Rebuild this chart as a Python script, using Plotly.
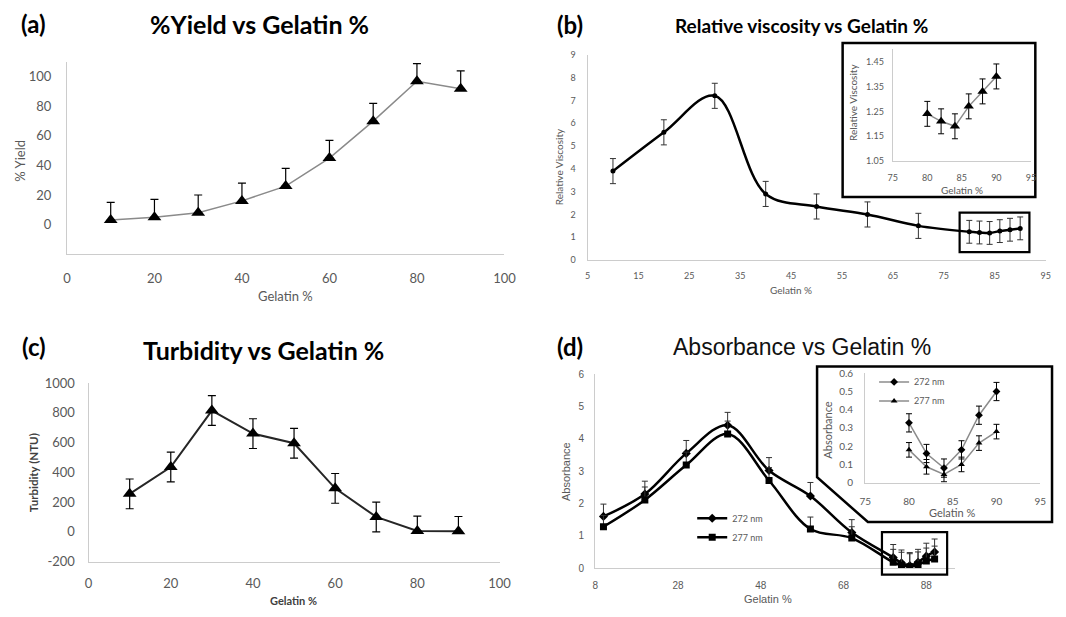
import plotly.graph_objects as go

W, H = 1066, 617

# ---------------- data ----------------
gelatin_a = [10, 20, 30, 40, 50, 60, 70, 80, 90]
yield_a = [3, 5, 8, 16, 26, 45, 70, 97, 92]
yield_err = [12, 12, 12, 12, 12, 12, 12, 12, 12]

gelatin_b = [10, 20, 30, 40, 50, 60, 70, 80, 82, 84, 86, 88, 90]
visc_b = [3.9, 5.6, 7.2, 2.9, 2.35, 2.0, 1.5, 1.24, 1.21, 1.19, 1.27, 1.33, 1.39]
visc_err = [0.55, 0.55, 0.55, 0.55, 0.55, 0.55, 0.55, 0.5, 0.5, 0.5, 0.5, 0.5, 0.5]

gelatin_b_inset = [80, 82, 84, 86, 88, 90]
visc_inset = [1.24, 1.21, 1.19, 1.27, 1.33, 1.39]
visc_inset_err = [0.05, 0.05, 0.05, 0.05, 0.05, 0.05]

gelatin_c = [10, 20, 30, 40, 50, 60, 70, 80, 90]
turbidity = [255, 435, 815, 660, 595, 292, 100, 5, 3]
turb_err_plus = [100, 100, 100, 100, 100, 100, 100, 100, 100]
turb_err_minus = [100, 100, 100, 100, 100, 100, 100, 0, 0]

gelatin_d = [10, 20, 30, 40, 50, 60, 70, 80, 82, 84, 86, 88, 90]
abs_272 = [1.6, 2.29, 3.55, 4.42, 3.02, 2.23, 1.1, 0.33, 0.16, 0.08, 0.18, 0.37, 0.5]
abs_277 = [1.28, 2.11, 3.19, 4.15, 2.71, 1.21, 0.93, 0.18, 0.09, 0.045, 0.1, 0.22, 0.28]
abs_272_err = [0.38, 0.4, 0.4, 0.4, 0.4, 0.42, 0.4, 0.4, 0.4, 0.4, 0.4, 0.4, 0.4]
abs_277_err = [0.35, 0.4, 0.4, 0.4, 0.4, 0.37, 0.35, 0.4, 0.4, 0.4, 0.4, 0.4, 0.4]

gelatin_d_inset = [80, 82, 84, 86, 88, 90]
abs_272_inset = [0.328, 0.16, 0.08, 0.18, 0.37, 0.5]
abs_277_inset = [0.18, 0.087, 0.045, 0.1, 0.217, 0.28]
abs_272_inset_err = [0.05, 0.05, 0.05, 0.05, 0.05, 0.05]
abs_277_inset_err = [0.04, 0.04, 0.04, 0.04, 0.04, 0.04]

turb_ticks = [-200, 0, 200, 400, 600, 800, 1000]
turb_ticktext = ["-200", "0", "200", "400", "600", "800", "1000"]

# ---------------- helpers ----------------
def xd(l, r):
    return [l / W, r / W]

def yd(t, b):
    return [1 - b / H, 1 - t / H]

def px(x):
    return x / W

def py(y):
    return 1 - y / H

CAL = "Lato, Open Sans, sans-serif"
ARI = "Liberation Sans, Arial, sans-serif"
TICK = "#595959"
AXL = "#cccccc"

def axis(domain, rng, tickvals, size, family, standoff, anchor, ticktext=None):
    d = dict(domain=domain, range=rng, tickvals=tickvals, showline=True,
             linecolor=AXL, linewidth=1.2, showgrid=False, zeroline=False,
             ticks="", tickfont=dict(size=size, family=family, color=TICK),
             ticklabelstandoff=standoff, anchor=anchor, fixedrange=True)
    if ticktext is not None:
        d["ticktext"] = ticktext
    return d

fig = go.Figure()

# (a)
fig.add_trace(go.Scatter(
    x=gelatin_a, y=yield_a, mode="lines+markers", xaxis="x", yaxis="y",
    line=dict(color="#8a8a8a", width=1.5),
    marker=dict(symbol="triangle-up", size=12, color="black"),
    error_y=dict(type="data", symmetric=False, array=yield_err,
                 arrayminus=[0] * len(yield_err), color="black", thickness=1.2, width=4),
    showlegend=False))

# (b) main
fig.add_trace(go.Scatter(
    x=gelatin_b, y=visc_b, mode="lines+markers", xaxis="x2", yaxis="y2",
    line=dict(color="black", width=2.5, shape="spline", smoothing=1),
    marker=dict(symbol="circle", size=5, color="black"),
    error_y=dict(type="data", array=visc_err, color="#333333", thickness=1, width=3),
    showlegend=False))

# (b) inset
fig.add_trace(go.Scatter(
    x=gelatin_b_inset, y=visc_inset, mode="lines+markers", xaxis="x3", yaxis="y3",
    line=dict(color="#8c8c8c", width=1.5),
    marker=dict(symbol="triangle-up", size=9, color="black"),
    error_y=dict(type="data", array=visc_inset_err, color="black", thickness=1, width=3),
    showlegend=False))

# (c)
fig.add_trace(go.Scatter(
    x=gelatin_c, y=turbidity, mode="lines+markers", xaxis="x4", yaxis="y4",
    line=dict(color="#262626", width=2),
    marker=dict(symbol="triangle-up", size=12, color="black"),
    error_y=dict(type="data", symmetric=False, array=turb_err_plus,
                 arrayminus=turb_err_minus, color="black", thickness=1.2, width=4),
    showlegend=False))

# (d) main
fig.add_trace(go.Scatter(
    x=gelatin_d, y=abs_272, mode="lines+markers", xaxis="x5", yaxis="y5",
    name="272 nm", legend="legend",
    line=dict(color="black", width=2.5, shape="spline", smoothing=1),
    marker=dict(symbol="diamond", size=7, color="black"),
    error_y=dict(type="data", symmetric=False, array=abs_272_err,
                 arrayminus=[0] * len(abs_272_err), color="#333333", thickness=1, width=3)))
fig.add_trace(go.Scatter(
    x=gelatin_d, y=abs_277, mode="lines+markers", xaxis="x5", yaxis="y5",
    name="277 nm", legend="legend",
    line=dict(color="black", width=2.5, shape="spline", smoothing=1),
    marker=dict(symbol="square", size=7, color="black"),
    error_y=dict(type="data", symmetric=False, array=abs_277_err,
                 arrayminus=[0] * len(abs_277_err), color="#333333", thickness=1, width=3)))

# (d) inset
fig.add_trace(go.Scatter(
    x=gelatin_d_inset, y=abs_272_inset, mode="lines+markers", xaxis="x6", yaxis="y6",
    name="272 nm", legend="legend2",
    line=dict(color="#8c8c8c", width=1.5),
    marker=dict(symbol="diamond", size=6, color="black"),
    error_y=dict(type="data", array=abs_272_inset_err, color="black", thickness=1, width=3)))
fig.add_trace(go.Scatter(
    x=gelatin_d_inset, y=abs_277_inset, mode="lines+markers", xaxis="x6", yaxis="y6",
    name="277 nm", legend="legend2",
    line=dict(color="#8c8c8c", width=1.5),
    marker=dict(symbol="triangle-up", size=6, color="black"),
    error_y=dict(type="data", array=abs_277_inset_err, color="black", thickness=1, width=3)))

layout = dict(
    width=W, height=H, autosize=False,
    margin=dict(l=0, r=0, t=0, b=0, pad=0),
    paper_bgcolor="white", plot_bgcolor="rgba(0,0,0,0)",
    # (a)
    xaxis=axis(xd(62, 507), [0, 100], [0, 20, 40, 60, 80, 100], 13, CAL, 12, "y"),
    yaxis=axis(yd(55.5, 252.6), [-20, 110], [0, 20, 40, 60, 80, 100], 13, CAL, 12, "x"),
    # (b)
    xaxis2=axis(xd(591.5, 1057.5), [5, 95], [5, 15, 25, 35, 45, 55, 65, 75, 85, 95], 9, CAL, 7, "y2"),
    yaxis2=axis(yd(48, 258.8), [0, 9], list(range(10)), 9, CAL, 9, "x2"),
    # (b) inset
    xaxis3=axis(xd(902, 1042.5), [75, 95], [75, 80, 85, 90, 95], 9, CAL, 8, "y3"),
    yaxis3=axis(yd(42.1, 157.3), [1.05, 1.5], [1.05, 1.15, 1.25, 1.35, 1.45], 9, CAL, 6, "x3",
                ticktext=["1.05", "1.15", "1.25", "1.35", "1.45"]),
    # (c)
    xaxis4=axis(xd(84, 502), [0, 100], [0, 20, 40, 60, 80, 100], 13, CAL, 10, "y4"),
    yaxis4=axis(yd(385, 568.3), [-200, 1000], turb_ticks, 13, CAL, 10, "x4",
                ticktext=turb_ticktext),
    # (d)
    xaxis5=axis(xd(599.3, 965.6), [8, 95], [8, 28, 48, 68, 88], 10, ARI, 8, "y5"),
    yaxis5=axis(yd(376, 575), [0, 6], [0, 1, 2, 3, 4, 5, 6], 10, ARI, 8, "x5"),
    # (d) inset
    xaxis6=axis(xd(874, 1052), [75, 95], [75, 80, 85, 90, 95], 10, CAL, 9, "y6"),
    yaxis6=axis(yd(375, 487.3), [0, 0.6], [0, 0.1, 0.2, 0.3, 0.4, 0.5, 0.6], 10, CAL, 9, "x6",
                ticktext=["0", "0.1", "0.2", "0.3", "0.4", "0.5", "0.6"]),
    legend=dict(x=px(698), y=py(509), xanchor="left", yanchor="top",
                font=dict(size=9, family=CAL, color=TICK), bgcolor="rgba(0,0,0,0)",
                itemwidth=30, tracegroupgap=0),
    legend2=dict(x=px(883), y=py(369), xanchor="left", yanchor="top",
                 font=dict(size=9, family=CAL, color=TICK), bgcolor="rgba(0,0,0,0)",
                 itemwidth=30, tracegroupgap=0),
)
fig.update_layout(**layout)

# ---------------- shapes ----------------
def rect(l, t, r, b, layer="above", fill="rgba(0,0,0,0)", w=2.2):
    return dict(type="rect", xref="paper", yref="paper", x0=px(l), x1=px(r),
                y0=py(b), y1=py(t), line=dict(color="black", width=w),
                fillcolor=fill, layer=layer)

def poly(points, layer="below", fill="white", w=2.5):
    p = "M " + " L ".join(f"{px(x):.5f},{py(y):.5f}" for x, y in points) + " Z"
    return dict(type="path", xref="paper", yref="paper", path=p,
                line=dict(color="black", width=w), fillcolor=fill, layer=layer)

shapes = [
    rect(851, 36, 1047, 194, layer="below", fill="white", w=2.5),
    rect(970, 210, 1041, 250.7),
    poly([(825, 368), (1064, 368), (1064, 527.7), (876.7, 527.7), (825, 481.7)]),
    rect(891, 538, 957.3, 581.7),
]
fig.update_layout(shapes=shapes)

# ---------------- annotations ----------------
def ann(text, x, y, size, family, color="black", bold=False, angle=0):
    t = f"<b>{text}</b>" if bold else text
    return dict(text=t, x=px(x), y=py(y), xref="paper", yref="paper",
                xanchor="center", yanchor="middle", showarrow=False,
                textangle=angle, font=dict(size=size, family=family, color=color))

annotations = [
    ann("(a)", 28, 16, 24, CAL, bold=True),
    ann("%Yield vs Gelatin %", 258, 16, 25, CAL, bold=True),
    ann("% Yield", 14, 157, 13, CAL, color=TICK, angle=-90),
    ann("Gelatin %", 284, 296, 13, CAL, color=TICK),

    ann("(b)", 574, 17, 24, CAL, bold=True),
    ann("Relative viscosity vs Gelatin %", 809, 18, 19, CAL, bold=True),
    ann("Relative Viscosity", 562, 163, 10, CAL, color=TICK, angle=-90),
    ann("Gelatin %", 798, 289, 10, CAL, color=TICK),
    ann("Relative Viscosity", 862, 97, 10, CAL, color=TICK, angle=-90),
    ann("Gelatin %", 972, 187, 10, CAL, color=TICK),

    ann("(c)", 28, 348, 24, CAL, bold=True),
    ann("Turbidity vs Gelatin %", 262, 351, 25, CAL, bold=True),
    ann("Turbidity (NTU)", 28, 477, 11.5, CAL, color="#404040", bold=True, angle=-90),
    ann("Gelatin %", 292, 608, 11, CAL, color="#404040", bold=True),

    ann("(d)", 574, 348, 24, CAL, bold=True),
    ann("Absorbance vs Gelatin %", 810, 348, 23, ARI, color="#111111"),
    ann("Absorbance", 569, 476, 11, ARI, color=TICK, angle=-90),
    ann("Gelatin %", 775, 607, 11, ARI, color=TICK),
    ann("Absorbance", 836, 433, 11, CAL, color=TICK, angle=-90),
    ann("Gelatin %", 963, 518, 11, CAL, color=TICK),
]
fig.update_layout(annotations=annotations)

fig.write_html("out.html", config={"displayModeBar": False},
               post_script="document.body.style.margin='0';document.body.style.overflow='hidden';")
